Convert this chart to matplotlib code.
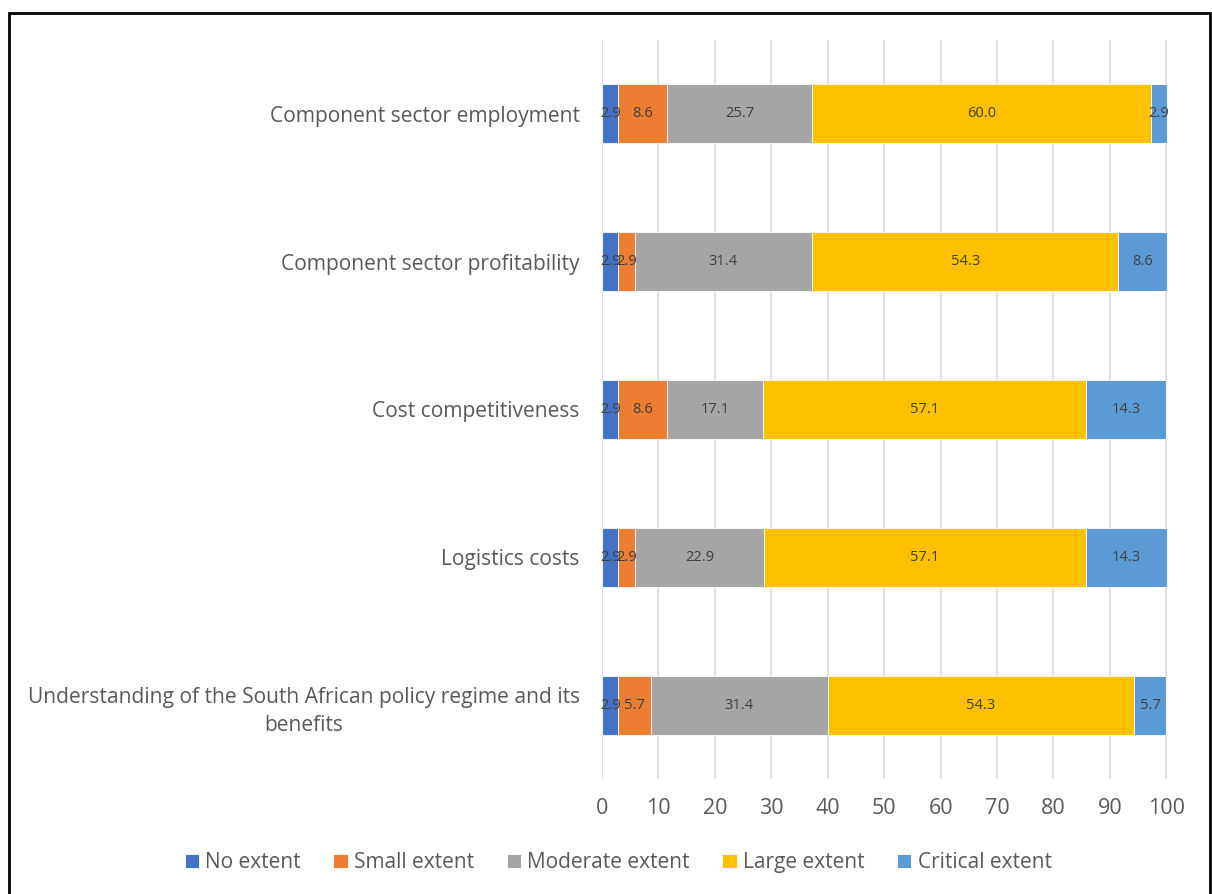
import matplotlib
matplotlib.use("Agg")
import matplotlib.pyplot as plt
from matplotlib.patches import Rectangle

categories = [
    "Component sector employment",
    "Component sector profitability",
    "Cost competitiveness",
    "Logistics costs",
    "Understanding of the South African policy regime and its\nbenefits",
]
series_names = ["No extent", "Small extent", "Moderate extent", "Large extent", "Critical extent"]
no_extent = [2.9, 2.9, 2.9, 2.9, 2.9]
small_extent = [8.6, 2.9, 8.6, 2.9, 5.7]
moderate_extent = [25.7, 31.4, 17.1, 22.9, 31.4]
large_extent = [60.0, 54.3, 57.1, 57.1, 54.3]
critical_extent = [2.9, 8.6, 14.3, 14.3, 5.7]
x_ticks = [0, 10, 20, 30, 40, 50, 60, 70, 80, 90, 100]

colors = ["#4472C4", "#ED7D31", "#A5A5A5", "#FFC000", "#5B9BD5"]
text_color = "#595959"

plt.rcParams["font.family"] = ["Open Sans", "DejaVu Sans"]

fig = plt.figure(figsize=(12.12, 8.94), dpi=100)
ax = fig.add_axes([0.4967, 0.1286, 0.467, 0.8267])

values = [no_extent, small_extent, moderate_extent, large_extent, critical_extent]
ypos = list(range(len(categories)))
left = [0.0] * len(categories)
for name, vals, col in zip(series_names, values, colors):
    bars = ax.barh(ypos, vals, left=left, height=0.4, color=col,
                   edgecolor="white", linewidth=0.6, label=name, zorder=3)
    for b, v in zip(bars, vals):
        ax.text(b.get_x() + b.get_width() / 2, b.get_y() + b.get_height() / 2,
                f"{v:.1f}", ha="center", va="center", fontsize=10.5,
                color="#404040", zorder=4)
    left = [l + v for l, v in zip(left, vals)]

ax.set_xlim(0, 100.3)
ax.set_ylim(len(categories) - 0.5, -0.5)
ax.set_xticks(x_ticks)
ax.set_yticks(ypos)
ax.set_yticklabels(categories, fontsize=15.1, color=text_color,
                   ha="right", multialignment="center", linespacing=1.45)
ax.tick_params(axis="y", length=0, pad=16)
ax.tick_params(axis="x", length=0, labelsize=15.5, labelcolor=text_color, pad=14)
ax.xaxis.grid(True, color="#D9D9D9", linewidth=1.2, zorder=0)
ax.set_axisbelow(True)
for s in ax.spines.values():
    s.set_visible(False)

handles, labels = ax.get_legend_handles_labels()
leg = fig.legend(handles, labels, loc="center", bbox_to_anchor=(0.51, 0.035),
                 ncol=5, frameon=False, fontsize=15, handlelength=0.7,
                 handleheight=0.7, handletextpad=0.3, columnspacing=1.55)
for t in leg.get_texts():
    t.set_color(text_color)

# outer border
fig.add_artist(Rectangle((0.0075, -0.05), 0.9905, 1.035, transform=fig.transFigure,
                         fill=False, edgecolor="black", linewidth=2))

fig.savefig("out.png", dpi=100)
